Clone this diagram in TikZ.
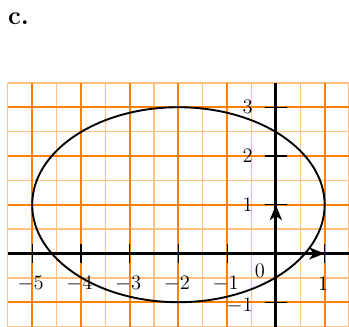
\documentclass[tikz,border=0pt]{standalone}
\usepackage{xcolor}
\usepackage{amsmath}
\usepackage{tikz}
\usetikzlibrary{arrows.meta, positioning}
\definecolor{mygrid}{RGB}{255,128,0}
\definecolor{mygridlight}{RGB}{255,192,128}
\definecolor{mydark}{RGB}{0,0,0}
\tikzset{
  majorgrid/.style={draw=mygrid, line width=1.1pt},
  minorgrid/.style={draw=mygridlight, line width=0.8pt},
  axis/.style={line width=1.7pt, color=mydark},
  tick/.style={line width=0.7pt, color=mydark},
  vect/.style={-{Stealth[length=9pt, width=7pt, inset=2.5pt]}, line width=1.7pt, color=mydark},
  curve/.style={line width=1.1pt, color=mydark}
}

\begin{document}
\begin{tikzpicture}[every node/.style={font=\fontsize{11.5}{14}\selectfont, inner sep=0pt}]
  \useasboundingbox (-5.66,-1.5) rectangle (1.5,5.2);

  % Label
  \node[anchor=base west, font=\fontsize{15}{18}\selectfont\bfseries] (lbl) at (-5.5,4.69) {c.};

  % Grid
  \draw[minorgrid] (-5.5,-1.5) grid[step=0.5] (1.5,3.5);
  \draw[majorgrid] (-5.5,-1.5) grid[step=1] (1.5,3.5);

  % Axes
  \draw[axis] (-5.5,0) -- (1.5,0);
  \draw[axis] (0,-1.5) -- (0,3.5);

  % Ticks
  \foreach \x in {-5,-4,-3,-2,-1,1} {
    \draw[tick] (\x,-0.2) -- (\x,0.2);
    \node (xl\x) at (\x-0.03,-0.62) {$\x$};
  }
  \foreach \y/\dy in {-1/-0.08,1/0,2/0,3/0} {
    \draw[tick] (-0.22,\y) -- (0.22,\y);
    \node[anchor=east] (yl\y) at (-0.47,\y+\dy) {$\y$};
  }
  \node (orig) at (-0.33,-0.36) {$0$};

  % Ellipse
  \draw[curve] (-2,1) ellipse [x radius=3, y radius=2];

  % Unit vectors
  \coordinate (O) at (0,0);
  \coordinate (I) at (1,0);
  \coordinate (J) at (0,1);
  \draw[vect] (O) -- (I);
  \draw[vect] (O) -- (J);
\end{tikzpicture}
\end{document}
